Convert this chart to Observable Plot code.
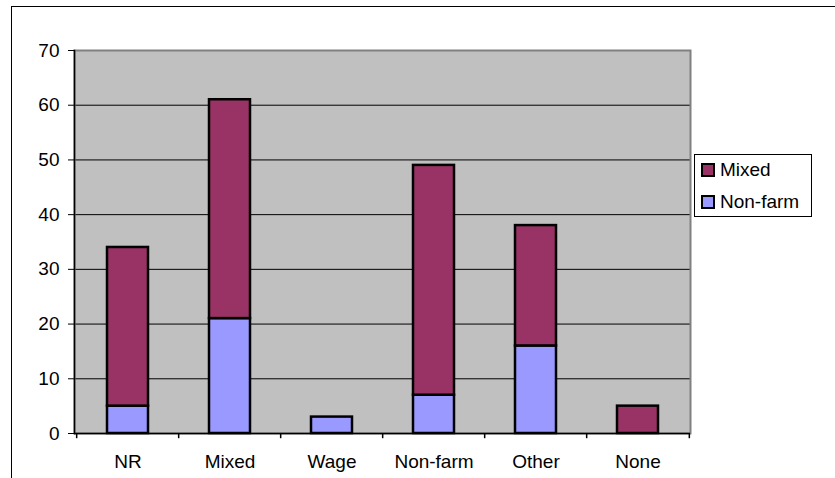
<!DOCTYPE html>
<html>
<head>
<meta charset="utf-8">
<script src="https://cdn.jsdelivr.net/npm/d3@7"></script>
<script src="https://cdn.jsdelivr.net/npm/@observablehq/plot@0.6"></script>
<style>
  html, body { margin: 0; padding: 0; background: white; }
  #wrap { position: relative; width: 835px; height: 478px; overflow: hidden; font-family: Arial, "Liberation Sans", sans-serif; }
  #frame { position: absolute; left: 11px; top: 6px; width: 900px; height: 600px; border-left: 1.5px solid #000; border-top: 1.5px solid #000; pointer-events: none; }
  #legend { position: absolute; left: 694px; top: 154px; width: 116px; height: 61px; border: 1px solid #000; background: white; }
  .item { position: absolute; left: 6px; display: flex; align-items: center; font-size: 19px; color: #000; }
  .sw { width: 10px; height: 10px; border: 2px solid #000; margin-right: 5px; }
</style>
</head>
<body>
<div id="wrap">
  <div id="chart"></div>
  <div id="frame"></div>
  <div id="legend"></div>
</div>
<script>
const categories = ["NR", "Mixed", "Wage", "Non-farm", "Other", "None"];
const nonFarmValues = [5, 21, 3, 7, 16, 0];
const mixedValues = [29, 40, 0, 42, 22, 5];
const seriesNames = ["Mixed", "Non-farm"];
const seriesColors = ["#993366", "#9999FF"];
const yTicks = [0, 10, 20, 30, 40, 50, 60, 70];

const data = [];
categories.forEach((c, i) => {
  data.push({category: c, series: "Non-farm", value: nonFarmValues[i]});
  data.push({category: c, series: "Mixed", value: mixedValues[i]});
});

const W = 835, H = 478, ML = 74, MR = 145, MT = 50, MB = 45;
const step = (W - ML - MR) / categories.length;

const chart = Plot.plot({
  width: W, height: H,
  marginLeft: ML, marginRight: MR, marginTop: MT, marginBottom: MB,
  x: {domain: categories, paddingInner: 0.6, paddingOuter: 0.3, label: null},
  y: {domain: [0, 70], label: null},
  color: {domain: seriesNames, range: seriesColors},
  style: {fontFamily: "Arial, 'Liberation Sans', sans-serif", fontSize: "19px", color: "black", background: "white"},
  marks: [
    Plot.frame({fill: "#C0C0C0"}),
    Plot.gridY(yTicks, {stroke: "black", strokeOpacity: 1, strokeWidth: 1}),
    Plot.frame({stroke: "#808080", strokeWidth: 2}),
    Plot.frame({anchor: "left", stroke: "black", strokeWidth: 1.5}),
    Plot.barY(data.filter(d => d.value > 0), Plot.stackY({
      x: "category", y: "value", fill: "series", order: null,
      stroke: "black", strokeWidth: 2.5
    })),
    Plot.ruleY([0], {stroke: "black", strokeWidth: 1.5}),
    Plot.ruleX(categories, {x: d => d, y1: 0, y2: -0.95, dx: -step / 2, stroke: "black", strokeWidth: 1.5}),
    Plot.ruleX(categories.slice(-1), {x: d => d, y1: 0, y2: -0.95, dx: step / 2, stroke: "black", strokeWidth: 1.5}),
    Plot.axisY(yTicks, {tickSize: 6, tickPadding: 9, fontSize: 19, stroke: "black"}),
    Plot.axisX({tickSize: 0, tickPadding: 21, fontSize: 19})
  ]
});
document.getElementById("chart").appendChild(chart);

const legend = document.getElementById("legend");
seriesNames.forEach((s, i) => {
  const it = document.createElement("div");
  it.className = "item";
  it.style.top = (4 + i * 32) + "px";
  const sw = document.createElement("div");
  sw.className = "sw";
  sw.style.background = seriesColors[i];
  const t = document.createElement("span");
  t.textContent = s;
  it.appendChild(sw); it.appendChild(t);
  legend.appendChild(it);
});
</script>
</body>
</html>
